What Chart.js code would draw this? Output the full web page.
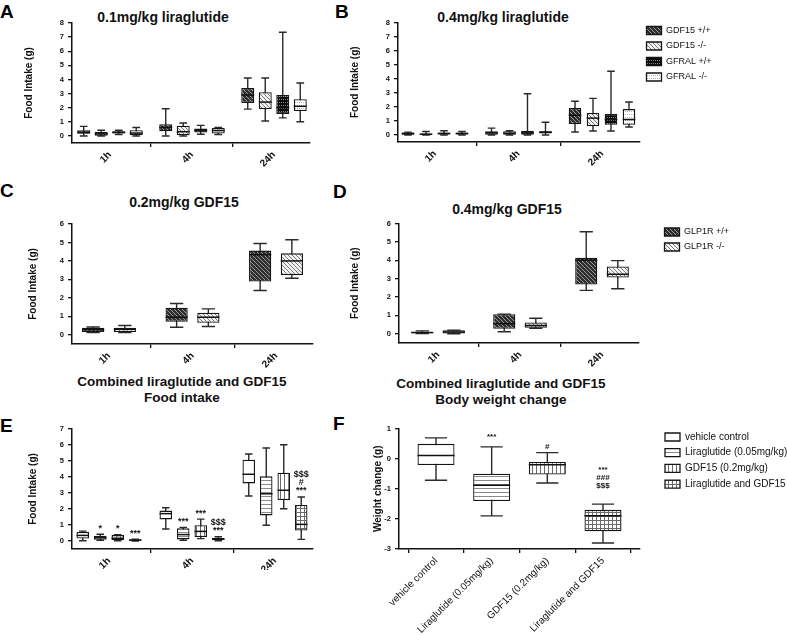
<!DOCTYPE html>
<html>
<head>
<meta charset="utf-8">
<script src="https://cdn.jsdelivr.net/npm/chart.js@4.4.1/dist/chart.umd.min.js"></script>
<style>
html,body{margin:0;padding:0;background:#fff;}
body{width:787px;height:635px;position:relative;overflow:hidden;font-family:"Liberation Sans",Arial,Helvetica,sans-serif;color:#111;}
canvas{position:absolute;}
.lt{position:absolute;font-weight:bold;font-size:19px;line-height:19px;color:#000;}
.tt{position:absolute;font-weight:bold;font-size:14px;line-height:16px;color:#111;white-space:nowrap;text-align:center;transform:translate(-50%,-50%);}
.tt2{font-size:13.5px;line-height:15.5px;}
</style>
</head>
<body>
<div class="lt" style="left:0px;top:2px">A</div>
<div class="lt" style="left:335px;top:2px">B</div>
<div class="lt" style="left:0px;top:181px">C</div>
<div class="lt" style="left:333px;top:182px">D</div>
<div class="lt" style="left:0px;top:416px">E</div>
<div class="lt" style="left:333px;top:414px">F</div>

<div class="tt" style="left:163px;top:17px">0.1mg/kg liraglutide</div>
<div class="tt" style="left:503px;top:17px">0.4mg/kg liraglutide</div>
<div class="tt" style="left:184px;top:202px">0.2mg/kg GDF15</div>
<div class="tt" style="left:507px;top:209px">0.4mg/kg GDF15</div>
<div class="tt tt2" style="left:182px;top:389px">Combined liraglutide and GDF15<br>Food intake</div>
<div class="tt tt2" style="left:501px;top:391px">Combined liraglutide and GDF15<br>Body weight change</div>

<canvas id="cA"></canvas>
<canvas id="cB"></canvas>
<canvas id="cC"></canvas>
<canvas id="cD"></canvas>
<canvas id="cE"></canvas>
<canvas id="cF"></canvas>

<script>
// ---------------- data ----------------
const TIMES = ['1h', '4h', '24h'];
const SERIES_AB = ['GDF15 +/+', 'GDF15 -/-', 'GFRAL +/+', 'GFRAL -/-'];
const SERIES_CD = ['GLP1R +/+', 'GLP1R -/-'];
const TREATMENTS = ['vehicle control', 'Liraglutide (0.05mg/kg)', 'GDF15 (0.2mg/kg)', 'Liraglutide and GDF15'];

// each entry: [min, q1, median, q3, max] for 1h, 4h, 24h
const A_GDF15_WT = [[0, 0.15, 0.25, 0.4, 0.68], [0, 0.33, 0.6, 0.83, 1.93], [1.9, 2.34, 2.9, 3.4, 4.1]];
const A_GDF15_KO = [[0, 0.02, 0.15, 0.28, 0.4], [0, 0, 0.3, 0.73, 0.92], [1.06, 1.9, 2.4, 3.1, 4.1]];
const A_GFRAL_WT = [[0.1, 0.17, 0.25, 0.33, 0.4], [0.12, 0.24, 0.4, 0.52, 0.75], [1.28, 1.56, 2.0, 2.9, 7.35]];
const A_GFRAL_KO = [[0, 0.05, 0.2, 0.4, 0.6], [0.1, 0.17, 0.38, 0.57, 0.6], [1.0, 1.77, 2.1, 2.6, 3.75]];

const B_GDF15_WT = [[0, 0.02, 0.1, 0.18, 0.2], [0, 0.02, 0.15, 0.26, 0.49], [0.21, 0.78, 1.4, 1.91, 2.4]];
const B_GDF15_KO = [[0, 0, 0.05, 0.1, 0.25], [0, 0.02, 0.12, 0.26, 0.3], [0.28, 0.62, 1.2, 1.56, 2.6]];
const B_GFRAL_WT = [[0, 0.03, 0.1, 0.18, 0.3], [0, 0.02, 0.15, 0.3, 2.93], [0.28, 0.72, 1.1, 1.49, 4.53]];
const B_GFRAL_KO = [[0, 0.04, 0.1, 0.18, 0.25], [0, 0.1, 0.2, 0.26, 0.9], [0.57, 0.72, 1.1, 1.84, 2.34]];

const C_GLP1R_WT = [[0.12, 0.15, 0.28, 0.38, 0.42], [0.41, 0.7, 0.95, 1.46, 1.69], [2.4, 2.88, 4.34, 4.56, 4.94]];
const C_GLP1R_KO = [[0.12, 0.15, 0.3, 0.38, 0.5], [0.45, 0.65, 0.95, 1.19, 1.4], [3.06, 3.23, 4.0, 4.41, 5.15]];

const D_GLP1R_WT = [[0.02, 0.03, 0.07, 0.1, 0.16], [0.11, 0.27, 0.55, 1.07, 1.07], [2.36, 2.68, 4.0, 4.14, 5.55]];
const D_GLP1R_KO = [[0, 0.02, 0.1, 0.2, 0.2], [0.3, 0.33, 0.45, 0.62, 0.85], [2.45, 3.06, 3.24, 3.66, 3.98]];

const E_VEHICLE = [[0.02, 0.15, 0.35, 0.56, 0.62], [0.75, 1.35, 1.71, 1.9, 2.08], [2.81, 3.6, 4.17, 5.08, 5.44]];
const E_LIRA = [[0.05, 0.08, 0.2, 0.33, 0.42], [0.05, 0.1, 0.4, 0.79, 0.85], [0.98, 1.6, 2.95, 4.04, 5.81]];
const E_GDF15 = [[0.02, 0.04, 0.17, 0.37, 0.4], [0.15, 0.25, 0.6, 0.98, 1.37], [2.02, 2.56, 3.17, 4.27, 6.02]];
const E_COMBO = [[0, 0.02, 0.06, 0.1, 0.12], [0.02, 0.06, 0.12, 0.19, 0.27], [0.1, 0.65, 1.04, 2.25, 2.75]];
// significance marks, lines listed bottom to top
const E_SIG_VEHICLE = ['', '', ''];
const E_SIG_LIRA = ['*', '***', ''];
const E_SIG_GDF15 = ['*', '***', ''];
const E_SIG_COMBO = ['***', '***\n$$$', '***\n#\n$$$'];

// body weight change, one [min, q1, median, q3, max] per treatment
const F_VEHICLE = [-0.72, -0.21, 0.1, 0.49, 0.69];
const F_LIRA = [-1.9, -1.41, -0.88, -0.5, 0.39];
const F_GDF15 = [-0.81, -0.53, -0.2, -0.11, 0.2];
const F_COMBO = [-2.8, -2.41, -1.9, -1.7, -1.51];
const F_SIG = ['', '***', '#', '$$$\n###\n***'];

// ---------------- styling helpers ----------------
Chart.defaults.font.family = "'Liberation Sans', Arial, Helvetica, sans-serif";
Chart.defaults.color = '#111';

function pattern(w, h, bg, fg, fn) {
  const c = document.createElement('canvas');
  c.width = w; c.height = h;
  const g = c.getContext('2d');
  g.fillStyle = bg; g.fillRect(0, 0, w, h);
  g.fillStyle = fg;
  for (let y = 0; y < h; y++) for (let x = 0; x < w; x++) if (fn(x, y)) g.fillRect(x, y, 1, 1);
  return g.createPattern(c, 'repeat');
}
const P = {
  darkDiag: pattern(4, 4, '#2e2e2e', '#9a9a9a', (x, y) => (x - y + 8) % 4 === 0),
  lightDiag: pattern(4, 4, '#f2f2f2', '#7a7a7a', (x, y) => (x - y + 8) % 4 === 0),
  blackDots: pattern(4, 3, '#0c0c0c', '#8a8a8a', (x, y) => x % 2 === 1 && y === 1),
  whiteDots: pattern(4, 3, '#ffffff', '#b5b5b5', (x, y) => x % 2 === 1 && y === 1),
  white: '#ffffff',
  hLines: pattern(4, 4, '#ffffff', '#8a8a8a', (x, y) => y === 0),
  vLines: pattern(4, 4, '#ffffff', '#6a6a6a', (x, y) => x === 0),
  grid: pattern(4, 4, '#ffffff', '#6a6a6a', (x, y) => x === 0 || y === 0)
};

function boxSet(label, stats, fill, sig, xs) {
  return {
    label, stats, sig: sig || [],
    data: stats.map((s, i) => ({ x: xs ? xs[i] : i, y: [s[1], s[3]] })),
    backgroundColor: fill, borderColor: '#151515', borderWidth: 1.3, borderSkipped: false
  };
}

// whiskers, medians and significance marks drawn from the chart's own scales
const boxPlot = {
  id: 'boxPlot',
  beforeDatasetsDraw(chart, args, opts) {
    const ctx = chart.ctx, ys = chart.scales.y;
    ctx.save();
    ctx.strokeStyle = '#2a2a2a';
    ctx.lineWidth = 1.4;
    chart.data.datasets.forEach((ds, di) => {
      chart.getDatasetMeta(di).data.forEach((el, i) => {
        const s = ds.stats[i]; if (!s) return;
        const x = el.x, hw = el.width * (opts.cap || 0.3);
        const y0 = ys.getPixelForValue(s[0]), y4 = ys.getPixelForValue(s[4]);
        ctx.beginPath();
        ctx.moveTo(x, y4); ctx.lineTo(x, y0);
        ctx.moveTo(x - hw, y4); ctx.lineTo(x + hw, y4);
        ctx.moveTo(x - hw, y0); ctx.lineTo(x + hw, y0);
        ctx.stroke();
      });
    });
    ctx.restore();
  },
  afterDatasetsDraw(chart, args, opts) {
    const ctx = chart.ctx, ys = chart.scales.y;
    ctx.save();
    chart.data.datasets.forEach((ds, di) => {
      chart.getDatasetMeta(di).data.forEach((el, i) => {
        const s = ds.stats[i]; if (!s) return;
        const x = el.x, w = el.width / 2;
        const ym = ys.getPixelForValue(s[2]);
        ctx.strokeStyle = '#111'; ctx.lineWidth = 1.5;
        ctx.beginPath(); ctx.moveTo(x - w, ym); ctx.lineTo(x + w, ym); ctx.stroke();
        const txt = ds.sig[i];
        if (txt) {
          const gap = Array.isArray(opts.gap) ? opts.gap[di] : (opts.gap || 6);
          ctx.font = opts.font || "bold 9px 'Liberation Sans', Arial";
          ctx.fillStyle = '#111'; ctx.textAlign = 'center'; ctx.textBaseline = 'middle';
          txt.split('\n').forEach((line, k) => {
            ctx.fillText(line, x, ys.getPixelForValue(s[4]) - gap - k * (opts.line || 8));
          });
        }
      });
    });
    ctx.restore();
  }
};

// place a 'chartArea' legend at an exact spot outside the plot
const legendPlace = {
  id: 'legendPlace',
  afterLayout(chart, args, opts) {
    const lg = chart.legend;
    if (!lg || opts.left == null) return;
    const w = lg.width, h = lg.height;
    lg.left = opts.left; lg.right = opts.left + w;
    lg.top = opts.top; lg.bottom = opts.top + h;
  }
};

function panel(id, rect, area, xr, yr, labels, datasets, o) {
  const cv = document.getElementById(id);
  cv.style.left = rect.x + 'px'; cv.style.top = rect.y + 'px';
  cv.width = rect.w; cv.height = rect.h;
  const yW = area.l - rect.x, padTop = area.t - rect.y;
  const padRight = rect.x + rect.w - area.r, xH = rect.y + rect.h - area.b;
  const axisGrid = { drawOnChartArea: false, tickLength: 4, color: '#111', lineWidth: 1.3 };
  const axisBorder = { display: true, color: '#111', width: 1.5 };
  return new Chart(cv, {
    type: 'bar',
    data: { datasets },
    options: {
      responsive: false, animation: false, devicePixelRatio: 1,
      layout: { padding: { top: padTop, left: 0, right: padRight, bottom: 0 } },
      datasets: { bar: { categoryPercentage: o.cat, barPercentage: o.bar, grouped: o.grouped !== false } },
      scales: {
        x: {
          type: 'linear', min: xr[0], max: xr[1], offset: false,
          afterBuildTicks: s => { s.ticks = labels.map((_, i) => ({ value: i })); },
          afterCalculateLabelRotation: s => { s.labelRotation = 45; },
          afterFit: s => { s.height = xH; },
          ticks: { autoSkip: false, minRotation: 45, maxRotation: 45, padding: 2, font: o.xFont, color: '#111',
                   callback: v => labels[v] },
          grid: axisGrid, border: axisBorder
        },
        y: {
          type: 'linear', min: yr[0], max: yr[1],
          afterBuildTicks: s => {
            const t = [];
            for (let v = Math.ceil(yr[0]); v <= yr[1]; v++) t.push({ value: v });
            s.ticks = t;
          },
          afterFit: s => { s.width = yW; },
          ticks: { stepSize: 1, padding: 4, font: { size: 7.5, weight: 'bold' }, color: '#111' },
          title: { display: true, text: o.yTitle, font: { size: 10, weight: 'bold' }, color: '#111',
                   padding: { top: o.yTitleX - rect.x - 6, bottom: 0 } },
          grid: axisGrid, border: axisBorder
        }
      },
      plugins: {
        tooltip: { enabled: false },
        legend: o.legend ? {
          display: true, position: 'chartArea', align: 'start',
          labels: { boxWidth: 15, boxHeight: 8, padding: o.legend.pad, font: { size: o.legend.size }, color: '#111' }
        } : { display: false },
        legendPlace: o.legend ? { left: o.legend.left - rect.x, top: o.legend.top - rect.y } : {},
        boxPlot: o.box || {}
      }
    },
    plugins: [boxPlot, legendPlace]
  });
}

const FILL_AB = [P.darkDiag, P.lightDiag, P.blackDots, P.whiteDots];
const FILL_CD = [P.darkDiag, P.lightDiag];
const FILL_EF = [P.white, P.hLines, P.vLines, P.grid];
const tickFont = { size: 10, weight: 'bold' };

panel('cA', { x: 20, y: 14, w: 310, h: 162 }, { l: 72, t: 23, r: 310, b: 143 }, [-0.463, 2.439], [-0.5, 8], TIMES,
  [A_GDF15_WT, A_GDF15_KO, A_GFRAL_WT, A_GFRAL_KO].map((s, i) => boxSet(SERIES_AB[i], s, FILL_AB[i])),
  { cat: 0.854, bar: 0.74, yTitle: 'Food Intake (g)', yTitleX: 29, xFont: tickFont });

panel('cB', { x: 340, y: 14, w: 447, h: 162 }, { l: 398, t: 22, r: 640, b: 142 }, [-0.443, 2.455], [-0.5, 8], TIMES,
  [B_GDF15_WT, B_GDF15_KO, B_GFRAL_WT, B_GFRAL_KO].map((s, i) => boxSet(SERIES_AB[i], s, FILL_AB[i])),
  { cat: 0.862, bar: 0.7, yTitle: 'Food Intake (g)', yTitleX: 355, xFont: tickFont,
    legend: { left: 640, top: 19.5, pad: 6.5, size: 9 } });

panel('cC', { x: 20, y: 215, w: 310, h: 160 }, { l: 72, t: 224, r: 313, b: 344 }, [-0.443, 2.443], [-0.5, 6], TIMES,
  [C_GLP1R_WT, C_GLP1R_KO].map((s, i) => boxSet(SERIES_CD[i], s, FILL_CD[i])),
  { cat: 0.76, bar: 0.7, yTitle: 'Food Intake (g)', yTitleX: 33, xFont: tickFont });

panel('cD', { x: 340, y: 215, w: 447, h: 160 }, { l: 399, t: 223, r: 639, b: 343 }, [-0.476, 2.451], [-0.5, 6], TIMES,
  [D_GLP1R_WT, D_GLP1R_KO].map((s, i) => boxSet(SERIES_CD[i], s, FILL_CD[i])),
  { cat: 0.77, bar: 0.7, yTitle: 'Food Intake (g)', yTitleX: 355, xFont: tickFont,
    legend: { left: 658.5, top: 221.5, pad: 6, size: 9 } });

panel('cE', { x: 20, y: 420, w: 310, h: 150 }, { l: 72, t: 429, r: 313, b: 549 }, [-0.446, 2.458], [-0.5, 7], TIMES,
  [[E_VEHICLE, E_SIG_VEHICLE], [E_LIRA, E_SIG_LIRA], [E_GDF15, E_SIG_GDF15], [E_COMBO, E_SIG_COMBO]]
    .map((p, i) => boxSet(TREATMENTS[i], p[0], FILL_EF[i], p[1])),
  { cat: 0.843, bar: 0.714, yTitle: 'Food Intake (g)', yTitleX: 33, xFont: tickFont,
    box: { gap: 6, line: 8, font: "bold 9px 'Liberation Sans', Arial" } });

panel('cF', { x: 340, y: 420, w: 447, h: 215 }, { l: 399, t: 428, r: 640, b: 549 }, [-0.665, 3.665], [-3, 1], TREATMENTS,
  [F_VEHICLE, F_LIRA, F_GDF15, F_COMBO].map((s, i) => boxSet(TREATMENTS[i], [s], FILL_EF[i], [F_SIG[i]], [i])),
  { cat: 1, bar: 0.665, grouped: false, yTitle: 'Weight change (g)', yTitleX: 378, xFont: { size: 10 },
    legend: { left: 659.3, top: 426.3, pad: 5.7, size: 10 },
    box: { gap: [8, 10, 6, 18], line: 8, font: "bold 8px 'Liberation Sans', Arial" } });
</script>
</body>
</html>
